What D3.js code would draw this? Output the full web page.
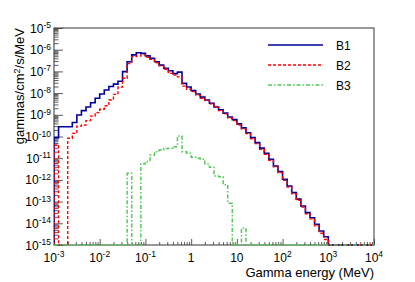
<!DOCTYPE html>
<html>
<head>
<meta charset="utf-8">
<script src="https://cdn.jsdelivr.net/npm/d3@7"></script>
<style>
  body { margin: 0; background: #fff; }
  text { font-family: "Liberation Sans", Arial, sans-serif; fill: #000; }
</style>
</head>
<body>
<div id="chart"></div>
<script>
// histogram binning: 10 log bins per decade from 1e-3 to 1e4 MeV
var binsPerDecade = 10;
var xMinExp = -3;
var xMaxExp = 4;
var binEdges = d3.range((xMaxExp - xMinExp) * binsPerDecade + 1)
    .map(i => Math.pow(10, xMinExp + i / binsPerDecade));

var seriesNames = ["B1", "B2", "B3"];

// bin contents (gammas/cm2/s/MeV), 70 bins, 0 = empty
var b1Values = [
    8.9e-11, 2.8e-10, 2.8e-10, 2.8e-10, 4.4e-10, 9.8e-10, 1.55e-9, 2.3e-9, 3.6e-9, 5.8e-9,
    9.1e-9, 1.4e-8, 2.0e-8, 2.6e-8, 3.5e-8, 9.8e-8, 2.8e-7, 5.8e-7, 7.2e-7, 6.8e-7,
    5.2e-7, 4.0e-7, 2.8e-7, 1.95e-7, 1.4e-7, 1.07e-7, 7.9e-8, 9.3e-8, 2.8e-8, 1.9e-8,
    1.3e-8, 9.1e-9, 6.5e-9, 4.8e-9, 3.4e-9, 2.3e-9, 1.7e-9, 1.2e-9, 7.9e-10, 6.0e-10,
    3.8e-10, 2.5e-10, 1.5e-10, 8.9e-11, 5.2e-11, 2.9e-11, 1.7e-11, 8.9e-12, 4.4e-12, 2.4e-12,
    1.07e-12, 5.2e-13, 2.6e-13, 1.3e-13, 6.3e-14, 3.1e-14, 1.8e-14, 8.9e-15, 4.4e-15, 2.4e-15,
    0, 0, 0, 0, 0, 0, 0, 0, 0, 0
];
var b2Values = [
    4.1e-11, 0, 0, 8.3e-11, 1.4e-10, 3.0e-10, 3.4e-10, 5.4e-10, 8.7e-10, 1.26e-9,
    1.8e-9, 2.6e-9, 4.8e-9, 8.7e-9, 1.9e-8, 4.8e-8, 2.3e-7, 4.8e-7, 5.1e-7, 5.8e-7,
    4.5e-7, 3.6e-7, 2.5e-7, 1.8e-7, 1.26e-7, 8.1e-8, 6.8e-8, 5.6e-8, 2.1e-8, 1.5e-8,
    1.17e-8, 8.1e-9, 5.8e-9, 4.5e-9, 3.2e-9, 2.2e-9, 1.55e-9, 1.1e-9, 7.1e-10, 5.4e-10,
    3.4e-10, 2.2e-10, 1.35e-10, 7.9e-11, 4.7e-11, 2.6e-11, 1.5e-11, 7.9e-12, 4.0e-12, 2.1e-12,
    9.5e-13, 4.7e-13, 2.3e-13, 1.15e-13, 5.6e-14, 2.75e-14, 1.6e-14, 7.6e-15, 3.5e-15, 1.8e-15,
    0, 0, 0, 0, 0, 0, 0, 0, 0, 0
];
var b3Values = [
    0, 0, 0, 0, 0, 0, 0, 0, 0, 0,
    0, 0, 0, 0, 0, 0, 2.0e-12, 0, 0, 5.6e-12,
    7.1e-12, 1.4e-11, 2.0e-11, 2.4e-11, 2.8e-11, 2.9e-11, 3.4e-11, 1.05e-10, 2.0e-11, 1.7e-11,
    1.1e-11, 1.0e-11, 8.9e-12, 5.4e-12, 3.8e-12, 1.5e-12, 1.4e-12, 6.0e-13, 8.3e-14, 0,
    0, 5.9e-15, 0, 0, 0, 0, 0, 0, 0, 0,
    0, 0, 0, 0, 0, 0, 0, 0, 0, 0,
    0, 0, 0, 0, 0, 0, 0, 0, 0, 0
];

var xTickValues = [1e-3, 1e-2, 1e-1, 1, 10, 1e2, 1e3, 1e4];
var xTickLabels = [["10", "-3"], ["10", "-2"], ["10", "-1"], ["1", ""], ["10", ""],
    ["10", "2"], ["10", "3"], ["10", "4"]];
var yTickValues = [1e-15, 1e-14, 1e-13, 1e-12, 1e-11, 1e-10, 1e-9, 1e-8, 1e-7, 1e-6, 1e-5];
var yTickLabels = [["10", "-15"], ["10", "-14"], ["10", "-13"], ["10", "-12"], ["10", "-11"],
    ["10", "-10"], ["10", "-9"], ["10", "-8"], ["10", "-7"], ["10", "-6"], ["10", "-5"]];

var svgWidth = 415;
var svgHeight = 282;
var leftMargin = 54;
var rightMargin = 41;
var topMargin = 28;
var bottomMargin = 37;
var plotWidth = svgWidth - leftMargin - rightMargin;
var plotHeight = svgHeight - topMargin - bottomMargin;
var yMin = 1e-15;

var styles = [
    {color: "#000099", width: 1.6, dash: null},
    {color: "#ff0000", width: 1.4, dash: "3,2"},
    {color: "#55c855", width: 1.5, dash: "4,2,1.5,2"}
];

var xScale = d3.scaleLog().domain([1e-3, 1e4]).range([leftMargin, leftMargin + plotWidth]);
var yScale = d3.scaleLog().domain([yMin, 1e-5]).range([topMargin + plotHeight, topMargin]);

var svg = d3.select("#chart")
    .append("svg")
    .attr("width", svgWidth)
    .attr("height", svgHeight);

// minor ticks 2..9 in every decade
function minorTicks(lo, hi) {
    var out = [];
    for (var e = lo; e < hi; e++) {
        for (var m = 2; m <= 9; m++) out.push(m * Math.pow(10, e));
    }
    return out;
}

// frame
svg.append("rect")
    .attr("x", leftMargin)
    .attr("y", topMargin)
    .attr("width", plotWidth)
    .attr("height", plotHeight)
    .attr("fill", "none")
    .attr("stroke", "#333")
    .attr("stroke-width", 1);

var xAxisGroup = svg.append("g").attr("transform", `translate(0,${topMargin + plotHeight})`);
var yAxisGroup = svg.append("g").attr("transform", `translate(${leftMargin},0)`);

xAxisGroup.append("g").call(d3.axisBottom(xScale).tickValues(xTickValues)
    .tickSizeInner(-6).tickSizeOuter(0).tickFormat(""));
xAxisGroup.append("g").call(d3.axisBottom(xScale).tickValues(minorTicks(-3, 4))
    .tickSizeInner(-3).tickSizeOuter(0).tickFormat(""));
yAxisGroup.append("g").call(d3.axisLeft(yScale).tickValues(yTickValues)
    .tickSizeInner(-9).tickSizeOuter(0).tickFormat(""));
yAxisGroup.append("g").call(d3.axisLeft(yScale).tickValues(minorTicks(-15, -5))
    .tickSizeInner(-4.5).tickSizeOuter(0).tickFormat(""));
svg.selectAll(".domain").remove();
svg.selectAll(".tick line").attr("stroke", "#333").attr("stroke-width", 0.8);

// tick labels with exponents
function addLabel(g, lbl, anchor) {
    var t = g.append("text").attr("text-anchor", anchor).attr("font-size", "12px");
    t.append("tspan").text(lbl[0]);
    if (lbl[1] !== "") {
        t.append("tspan").attr("dy", -4.5).attr("font-size", "8.5px").text(lbl[1]);
    }
    return t;
}

xTickValues.forEach((v, i) => {
    var g = svg.append("g").attr("transform", `translate(${xScale(v)},${topMargin + plotHeight + 16.5})`);
    addLabel(g, xTickLabels[i], "middle");
});
yTickValues.forEach((v, i) => {
    var g = svg.append("g").attr("transform", `translate(${leftMargin - 3},${yScale(v) + 4.5})`);
    addLabel(g, yTickLabels[i], "end");
});

// axis titles
svg.append("text")
    .attr("x", leftMargin + plotWidth)
    .attr("y", 277)
    .attr("text-anchor", "end")
    .attr("font-size", "13px")
    .text("Gamma energy (MeV)");

var yTitle = svg.append("text")
    .attr("transform", `translate(24,${topMargin}) rotate(-90)`)
    .attr("text-anchor", "end")
    .attr("font-size", "13px");
yTitle.append("tspan").text("gammas/cm");
yTitle.append("tspan").attr("dy", -4.5).attr("font-size", "9px").text("2");
yTitle.append("tspan").attr("dy", 4.5).text("/s/MeV");

// histograms as steps, empty bins sit on the bottom of the frame
svg.append("clipPath").attr("id", "plotclip")
    .append("rect")
    .attr("x", leftMargin)
    .attr("y", topMargin - 1)
    .attr("width", plotWidth)
    .attr("height", plotHeight + 2);

var line = d3.line()
    .x(d => xScale(d[0]))
    .y(d => yScale(Math.max(d[1], yMin)));

function stepPoints(values) {
    var pts = [[binEdges[0], yMin]];
    values.forEach((v, i) => {
        pts.push([binEdges[i], v]);
        pts.push([binEdges[i + 1], v]);
    });
    pts.push([binEdges[binEdges.length - 1], yMin]);
    return pts;
}

var histGroup = svg.append("g").attr("clip-path", "url(#plotclip)");
[b1Values, b2Values, b3Values].forEach((vals, i) => {
    histGroup.append("path")
        .attr("d", line(stepPoints(vals)))
        .attr("fill", "none")
        .attr("stroke", styles[i].color)
        .attr("stroke-width", styles[i].width)
        .attr("stroke-dasharray", styles[i].dash);
});

// legend
var legend = svg.append("g");
seriesNames.forEach((name, i) => {
    var ly = 45 + i * 20;
    legend.append("line")
        .attr("x1", 268).attr("x2", 323)
        .attr("y1", ly).attr("y2", ly)
        .attr("stroke", styles[i].color)
        .attr("stroke-width", styles[i].width)
        .attr("stroke-dasharray", styles[i].dash);
    legend.append("text")
        .attr("x", 336)
        .attr("y", ly + 4.5)
        .attr("font-size", "12px")
        .text(name);
});
</script>
</body>
</html>
